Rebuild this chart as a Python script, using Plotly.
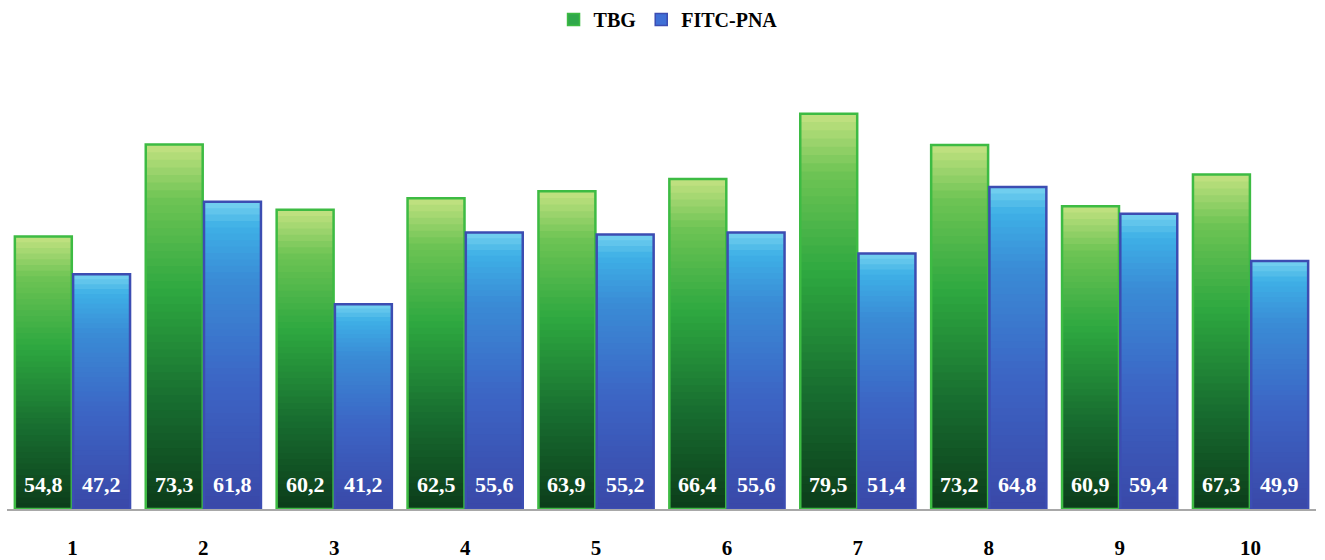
import plotly.graph_objects as go

# Sample numbers and measured values
samples = [1, 2, 3, 4, 5, 6, 7, 8, 9, 10]
tbg = [54.8, 73.3, 60.2, 62.5, 63.9, 66.4, 79.5, 73.2, 60.9, 67.3]
fitc_pna = [47.2, 61.8, 41.2, 55.6, 55.2, 55.6, 51.4, 64.8, 59.4, 49.9]

SERIF = "Liberation Serif, Times New Roman, serif"
N_SEG = 48           # number of shading steps per bar
BAR_W = 0.435

# colour stops from bottom (0) to top (1)
green_stops = [(0.0, (12, 60, 26)), (0.3, (24, 110, 48)), (0.6, (46, 168, 64)),
               (0.85, (110, 196, 84)), (1.0, (196, 226, 130))]
blue_stops = [(0.0, (58, 72, 168)), (0.4, (60, 100, 196)), (0.75, (58, 140, 214)),
              (0.92, (62, 176, 230)), (1.0, (120, 210, 240))]


def interp(stops, t):
    for (t0, c0), (t1, c1) in zip(stops, stops[1:]):
        if t <= t1:
            f = (t - t0) / (t1 - t0) if t1 > t0 else 0
            return "rgb(%d,%d,%d)" % tuple(round(a + (b - a) * f) for a, b in zip(c0, c1))
    return "rgb(%d,%d,%d)" % stops[-1][1]


fig = go.Figure()
annotations = []


def add_series(values, name, stops, offset, edge, legend_fill):
    # shaded body: nested bars from the baseline, tallest first, so each
    # shorter one paints the lower part in a darker tone without seams
    for k in reversed(range(N_SEG)):
        fig.add_trace(go.Bar(
            x=samples,
            y=[v * (k + 1) / N_SEG for v in values],
            offset=offset, width=BAR_W,
            marker=dict(color=interp(stops, (k + 0.5) / N_SEG), line=dict(width=0)),
            showlegend=False, hoverinfo="skip",
        ))
    # outline
    fig.add_trace(go.Bar(
        x=samples, y=values, offset=offset, width=BAR_W,
        marker=dict(color="rgba(0,0,0,0)", line=dict(color=edge, width=2.5)),
        showlegend=False, name=name,
    ))
    # legend entry
    fig.add_trace(go.Bar(
        x=[None], y=[None], name=name,
        marker=dict(color=legend_fill, line=dict(color=edge, width=1.5)),
    ))
    # value labels near the foot of each bar
    for s, v in zip(samples, values):
        annotations.append(dict(
            x=s + offset + BAR_W / 2, y=0, xref="x", yref="y",
            text=f"<b>{v:.1f}</b>".replace(".", ","), showarrow=False,
            yanchor="middle", yshift=25,
            font=dict(family=SERIF, size=22, color="white"),
        ))


add_series(tbg, "TBG", green_stops, -0.44, "#3dbb43", "#2fa84a")
add_series(fitc_pna, "FITC-PNA", blue_stops, 0.005, "#3c4db2", "#3f6fd6")

fig.update_layout(
    width=1325, height=560,
    margin=dict(l=7, r=9, t=80, b=51, autoexpand=False),
    paper_bgcolor="white", plot_bgcolor="white",
    barmode="overlay",
    annotations=annotations,
    font=dict(family=SERIF, color="black"),
    legend=dict(orientation="h", x=0.505, xanchor="center", y=1.0, yref="container",
                yanchor="top", font=dict(family=SERIF, size=20, color="black", weight="bold"),
                itemwidth=30, traceorder="normal"),
    xaxis=dict(
        tickmode="array", tickvals=samples, ticktext=[f"<b>{s}</b>" for s in samples],
        range=[0.5, 10.5], showgrid=False, zeroline=False, automargin=False,
        showline=True, linecolor="#a8a8a8", linewidth=1.5,
        ticks="outside", ticklen=19, tickcolor="rgba(0,0,0,0)",
        tickfont=dict(family=SERIF, size=21, color="black"),
    ),
    yaxis=dict(range=[0, 86.3], visible=False, showgrid=False, zeroline=False,
               automargin=False),
)

fig.write_html("out.html")
